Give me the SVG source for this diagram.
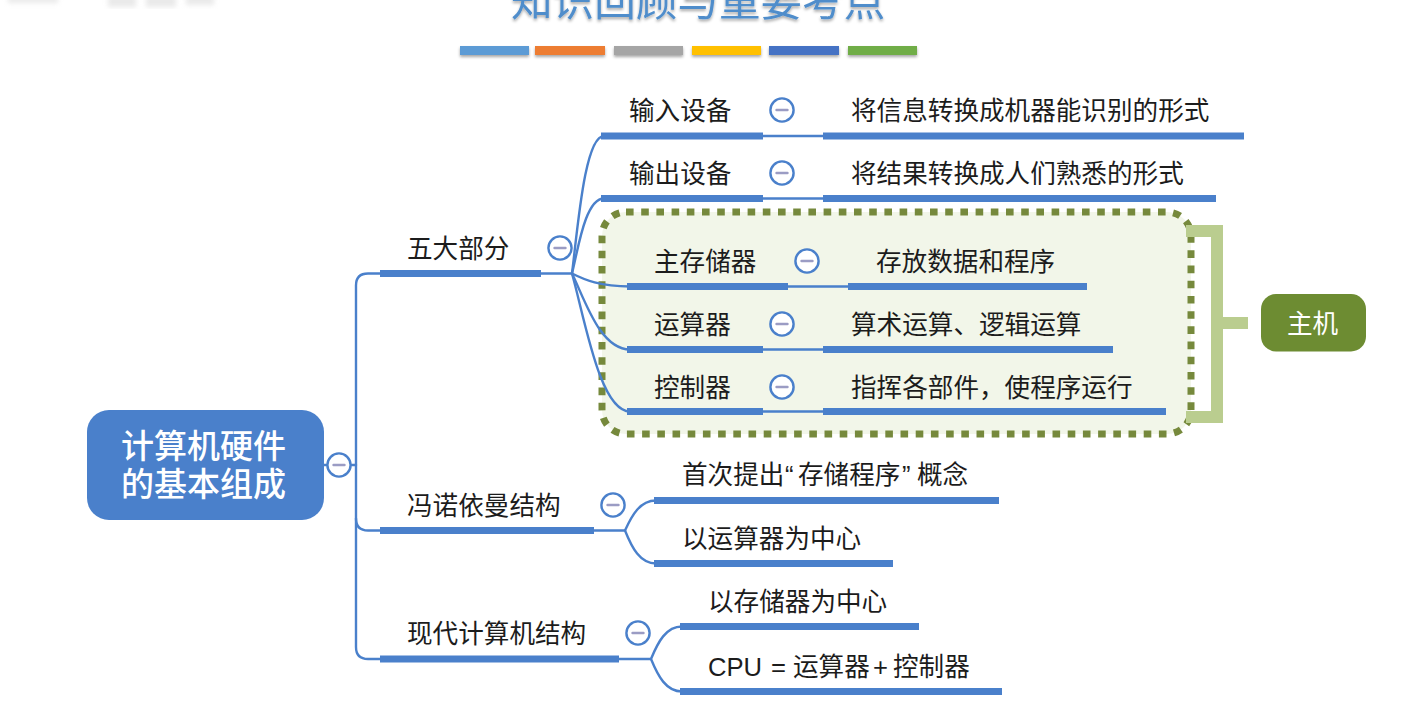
<svg xmlns="http://www.w3.org/2000/svg" width="1418" height="716" viewBox="0 0 1418 716">
  <style>
    text { font-family: "Noto Sans CJK SC", "Noto Sans", sans-serif; font-size: 25.6px; fill: #1c1c1c; }
    .title { font-size: 41.6px; fill: #4f8dcb; }
    .root { font-size: 33px; font-weight: 500; fill: #ffffff; }
    .light { fill: #ffffff; }
    .latin { font-family: "Liberation Sans", Arial, sans-serif; }
    .bar { fill: #4a80cb; }
    .wire { fill: none; stroke: #4a80cb; stroke-width: 2.4; stroke-linecap: round; }
    .toggle circle { fill: #ffffff; stroke: #4a80cb; stroke-width: 2.4; }
    .toggle line { stroke: #9b9cc4; stroke-width: 2.4; stroke-linecap: round; }
  </style>
  <defs>
    <filter id="shade" x="-10%" y="-30%" width="120%" height="190%">
      <feDropShadow dx="0" dy="2" stdDeviation="1.5" flood-color="#000000" flood-opacity="0.35"/>
    </filter>
    <filter id="soft"><feGaussianBlur stdDeviation="2.5"/></filter>
    <g id="minus" class="toggle">
      <circle r="11.6"/>
      <line x1="-5.5" x2="5.5"/>
    </g>
  </defs>

  <rect width="1418" height="716" fill="#ffffff"/>

  <!-- faded mark in the top corner -->
  <g fill="#d8d8d8" opacity="0.55" filter="url(#soft)">
    <rect x="108" y="-4" width="28" height="11"/>
    <rect x="146" y="-4" width="30" height="11"/>
    <rect x="186" y="-4" width="28" height="9"/>
    <rect x="8" y="-4" width="50" height="7"/>
  </g>

  <g id="heading">
    <text class="title" x="511" y="16" filter="url(#shade)">知识回顾与重要考点</text>
    <g filter="url(#shade)">
      <rect x="460" y="46" width="69" height="9" fill="#5b9bd5"/>
      <rect x="535" y="46" width="70" height="9" fill="#ed7d31"/>
      <rect x="614" y="46" width="69" height="9" fill="#a5a5a5"/>
      <rect x="692" y="46" width="69" height="9" fill="#ffc000"/>
      <rect x="769" y="46" width="70" height="9" fill="#4472c4"/>
      <rect x="848" y="46" width="69" height="9" fill="#70ad47"/>
    </g>
  </g>

  <!-- highlighted region behind the three host parts -->
  <g id="host-region">
    <rect x="602" y="212" width="589" height="222" rx="24" fill="#f2f6e9" stroke="#76893c" stroke-width="7" stroke-dasharray="7.6 7.6"/>
    <path d="M1186 231H1217V417H1186M1217 323H1248" fill="none" stroke="#bacd8f" stroke-width="12"/>
  </g>

  <g id="connectors">
    <path class="wire" d="M324 465H356"/>
    <path class="wire" d="M380 273.500H368Q356 273.500 356 285.500V647Q356 659 368 659H380"/>
    <path class="wire" d="M356 518.500Q356 530.500 368 530.500H380"/>
    <path class="wire" d="M541 273.500H572"/>
    <path class="wire" d="M572 273.500C578 225 585 136 604 136"/>
    <path class="wire" d="M572 273.500C578 250 585 198.500 604 198.500"/>
    <path class="wire" d="M572 273.500C585 280 600 286.500 630 286.500"/>
    <path class="wire" d="M572 273.500C585 300 600 349.500 630 349.500"/>
    <path class="wire" d="M572 273.500C585 320 600 411.500 630 411.500"/>
    <path class="wire" d="M763 136H823M763 198.500H823M788 286.500H848M763 349.500H823M763 411.500H823"/>
    <path class="wire" d="M594 530.500H625"/>
    <path class="wire" d="M625 530.500C632 515 640 500.500 656 500.500M625 530.500C632 548 640 563.500 656 563.500"/>
    <path class="wire" d="M619 659H651"/>
    <path class="wire" d="M651 659C658 642 666 626.500 682 626.500M651 659C658 676 666 691.500 682 691.500"/>
  </g>

  <g id="root-node">
    <rect x="87" y="410" width="237" height="110" rx="22" fill="#4a80cb"/>
    <text class="root" x="121" y="458">计算机硬件</text>
    <text class="root" x="121" y="496">的基本组成</text>
    <use href="#minus" x="339" y="465"/>
  </g>

  <g id="node-five-parts">
    <text x="407" y="258">五大部分</text>
    <rect class="bar" x="380" y="270" width="161" height="7"/>
    <use href="#minus" x="560" y="248"/>
  </g>
  <g id="node-input">
    <text x="629" y="120">输入设备</text>
    <rect class="bar" x="601" y="132.500" width="162" height="7"/>
    <use href="#minus" x="782" y="110"/>
  </g>
  <g id="node-input-note">
    <text x="851" y="120">将信息转换成机器能识别的形式</text>
    <rect class="bar" x="823" y="132.500" width="421" height="7"/>
  </g>
  <g id="node-output">
    <text x="629" y="183">输出设备</text>
    <rect class="bar" x="601" y="195" width="162" height="7"/>
    <use href="#minus" x="782" y="173"/>
  </g>
  <g id="node-output-note">
    <text x="851" y="183">将结果转换成人们熟悉的形式</text>
    <rect class="bar" x="823" y="195" width="393" height="7"/>
  </g>
  <g id="node-memory">
    <text x="654" y="271">主存储器</text>
    <rect class="bar" x="627" y="283" width="161" height="7"/>
    <use href="#minus" x="807" y="261"/>
  </g>
  <g id="node-memory-note">
    <text x="876" y="271">存放数据和程序</text>
    <rect class="bar" x="848" y="283" width="239" height="7"/>
  </g>
  <g id="node-alu">
    <text x="654" y="334">运算器</text>
    <rect class="bar" x="627" y="346" width="136" height="7"/>
    <use href="#minus" x="782" y="324"/>
  </g>
  <g id="node-alu-note">
    <text x="851" y="334">算术运算、逻辑运算</text>
    <rect class="bar" x="823" y="346" width="290" height="7"/>
  </g>
  <g id="node-control">
    <text x="654" y="397">控制器</text>
    <rect class="bar" x="627" y="408" width="136" height="7"/>
    <use href="#minus" x="782" y="387"/>
  </g>
  <g id="node-control-note">
    <text x="851" y="397">指挥各部件，使程序运行</text>
    <rect class="bar" x="823" y="408" width="343" height="7"/>
  </g>
  <g id="node-host">
    <rect x="1261" y="294" width="105" height="57.500" rx="15" fill="#6d8c32"/>
    <text class="light" x="1287" y="333">主机</text>
  </g>

  <g id="node-von-neumann">
    <text x="407" y="515">冯诺依曼结构</text>
    <rect class="bar" x="380" y="527" width="214" height="7"/>
    <use href="#minus" x="613" y="505"/>
  </g>
  <g id="node-stored-program">
    <text x="682" y="484">首次提出<tspan class="latin" x="785">“</tspan><tspan x="798">存储程序</tspan><tspan class="latin" x="902">”</tspan><tspan x="917">概念</tspan></text>
    <rect class="bar" x="654" y="497" width="345" height="7"/>
  </g>
  <g id="node-alu-centre">
    <text x="682" y="548">以运算器为中心</text>
    <rect class="bar" x="654" y="560" width="239" height="7"/>
  </g>
  <g id="node-modern">
    <text x="407" y="643">现代计算机结构</text>
    <rect class="bar" x="380" y="655.500" width="239" height="7"/>
    <use href="#minus" x="638" y="633"/>
  </g>
  <g id="node-memory-centre">
    <text x="708" y="611">以存储器为中心</text>
    <rect class="bar" x="680" y="623" width="239" height="7"/>
  </g>
  <g id="node-cpu">
    <text x="708" y="676"><tspan class="latin">CPU</tspan><tspan class="latin" x="771">=</tspan><tspan x="793">运算器</tspan><tspan class="latin" x="873">+</tspan><tspan x="893">控制器</tspan></text>
    <rect class="bar" x="680" y="688" width="322" height="7"/>
  </g>
</svg>
